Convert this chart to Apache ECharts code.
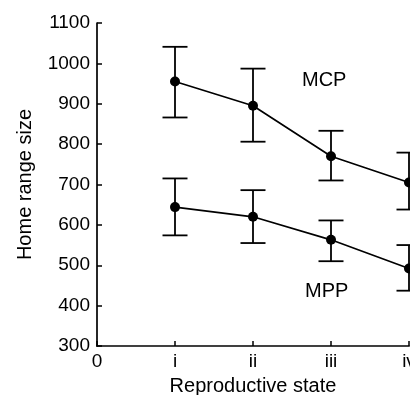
<!DOCTYPE html>
<html>
<head>
<meta charset="utf-8">
<script src="https://cdn.jsdelivr.net/npm/echarts@6/dist/echarts.min.js"></script>
<style>
html,body{margin:0;padding:0;background:#fff;}
#chart{width:410px;height:395px;}
</style>
</head>
<body>
<div id="chart"></div>
<script>
// Data
var xTickLabels = ['0', 'i', 'ii', 'iii', 'iv'];
var states = [1, 2, 3, 4];
var mcpMean = [955, 895, 770, 705];
var mcpUpper = [1041, 987, 833, 779];
var mcpLower = [866, 806, 710, 638];
var mppMean = [644, 620, 563, 492];
var mppUpper = [715, 686, 611, 550];
var mppLower = [574, 555, 510, 437];
var seriesNames = ['MCP', 'MPP'];

var FONT = 'Liberation Sans, Arial, sans-serif';
var chart = echarts.init(document.getElementById('chart'), null, {renderer: 'canvas'});

function pairs(xs, ys) { return xs.map(function (x, i) { return [x, ys[i]]; }); }
function errData(xs, lo, hi) { return xs.map(function (x, i) { return [x, lo[i], hi[i]]; }); }

function errRender(params, api) {
  var x = api.value(0);
  var lo = api.coord([x, api.value(1)]);
  var hi = api.coord([x, api.value(2)]);
  var half = 12.5;
  var st = {stroke: '#000', lineWidth: 1.8};
  return {
    type: 'group',
    children: [
      {type: 'line', shape: {x1: hi[0], y1: hi[1], x2: lo[0], y2: lo[1]}, style: st},
      {type: 'line', shape: {x1: hi[0] - half, y1: hi[1], x2: hi[0] + half, y2: hi[1]}, style: st},
      {type: 'line', shape: {x1: lo[0] - half, y1: lo[1], x2: lo[0] + half, y2: lo[1]}, style: st}
    ]
  };
}

var option = {
  backgroundColor: '#fff',
  animation: false,
  grid: {left: 97, top: 23, width: 312, height: 323, containLabel: false, outerBoundsMode: 'none'},
  xAxis: {
    type: 'value', min: 0, max: 4, interval: 1,
    name: 'Reproductive state', nameLocation: 'middle', nameGap: 30,
    nameTextStyle: {color: '#000', fontSize: 20, fontFamily: FONT},
    axisLine: {lineStyle: {color: '#000', width: 1.7}},
    axisTick: {inside: true, length: 5, lineStyle: {color: '#000', width: 1.5}},
    axisLabel: {color: '#000', fontSize: 19, fontFamily: FONT, margin: 6,
      formatter: function (v) { return xTickLabels[Math.round(v)]; }},
    splitLine: {show: false}
  },
  yAxis: {
    type: 'value', min: 300, max: 1100, interval: 100,
    name: 'Home range size', nameLocation: 'middle', nameGap: 62,
    nameTextStyle: {color: '#000', fontSize: 20, fontFamily: FONT},
    axisLine: {lineStyle: {color: '#000', width: 1.7}},
    axisTick: {inside: true, length: 5, lineStyle: {color: '#000', width: 1.5}},
    axisLabel: {color: '#000', fontSize: 19, fontFamily: FONT, margin: 7,
      formatter: function (v) { return String(v); }},
    splitLine: {show: false}
  },
  graphic: [
    {type: 'text', left: 302, top: 70, style: {text: seriesNames[0], fill: '#000', font: '20px ' + FONT}},
    {type: 'text', left: 305, top: 281, style: {text: seriesNames[1], fill: '#000', font: '20px ' + FONT}}
  ],
  series: [
    {type: 'custom', renderItem: errRender, data: errData(states, mcpLower, mcpUpper), z: 2},
    {type: 'custom', renderItem: errRender, data: errData(states, mppLower, mppUpper), z: 2},
    {name: seriesNames[0], type: 'line', data: pairs(states, mcpMean), symbol: 'circle', symbolSize: 10,
      itemStyle: {color: '#000'}, lineStyle: {color: '#000', width: 1.7}, z: 3},
    {name: seriesNames[1], type: 'line', data: pairs(states, mppMean), symbol: 'circle', symbolSize: 10,
      itemStyle: {color: '#000'}, lineStyle: {color: '#000', width: 1.7}, z: 3}
  ]
};
chart.setOption(option);
</script>
</body>
</html>
